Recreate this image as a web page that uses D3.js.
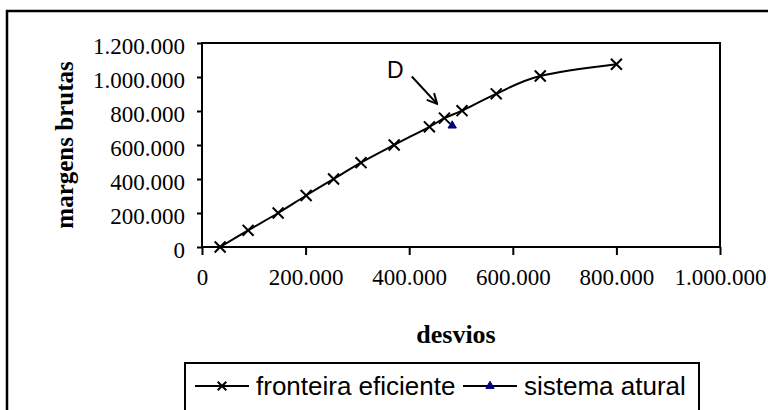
<!DOCTYPE html>
<html>
<head>
<meta charset="utf-8">
<script src="https://cdn.jsdelivr.net/npm/d3@7"></script>
<style>
  body { margin: 0; background: #fff; }
  svg { display: block; }
</style>
</head>
<body>
<div id="VizBox"></div>
<script>
// fronteira eficiente (desvios, margens brutas)
var frontX = [35000, 89000, 147000, 201000, 254000, 307000, 371000, 439000, 468000, 502000, 568000, 653000, 800000];
var frontY = [0, 98000, 200000, 303000, 400000, 496000, 600000, 707000, 758000, 802000, 901000, 1006000, 1075000];
// sistema atural
var atualX = [483000];
var atualY = [714000];

var xTicks = [0, 200000, 400000, 600000, 800000, 1000000];
var yTicks = [0, 200000, 400000, 600000, 800000, 1000000, 1200000];
var seriesNames = ["fronteira eficiente", "sistema atural"];

// annotation "D" (label position and arrow, in data units)
var dLabel = {text: "D", x: 357000, y: 995000};
var dArrow = {x1: 405000, y1: 1003000, x2: 454000, y2: 842000};

var W = 768, H = 410;
var plot = {left: 202, top: 43, right: 720, bottom: 247};

var svg = d3.select("#VizBox")
  .append("svg")
  .attr("width", W)
  .attr("height", H);

// outer chart frame (runs off the right and bottom edges)
svg.append("rect")
  .attr("x", 7).attr("y", 11)
  .attr("width", 800).attr("height", 450)
  .attr("fill", "none")
  .attr("stroke", "#000")
  .attr("stroke-width", 2.5);

var x = d3.scaleLinear().domain([0, 1000000]).range([plot.left, plot.right]);
var y = d3.scaleLinear().domain([0, 1200000]).range([plot.bottom, plot.top]);

var loc = d3.formatLocale({decimal: ",", thousands: ".", grouping: [3], currency: ["", ""]});
var fmt = loc.format(",");

// plot area border
svg.append("rect")
  .attr("x", plot.left).attr("y", plot.top)
  .attr("width", plot.right - plot.left)
  .attr("height", plot.bottom - plot.top)
  .attr("fill", "#fff")
  .attr("stroke", "#000")
  .attr("stroke-width", 2);

// X axis
var xAxis = svg.append("g")
  .attr("transform", "translate(0," + plot.bottom + ")")
  .call(d3.axisBottom(x).tickValues(xTicks).tickFormat(fmt).tickSize(8).tickPadding(14));
xAxis.select(".domain").remove();
xAxis.selectAll("line").attr("stroke-width", 2);
xAxis.selectAll("text")
  .attr("font-family", "'Liberation Serif', 'Times New Roman', serif")
  .attr("font-size", 23)
  .attr("fill", "#000");

// Y axis
var yAxis = svg.append("g")
  .attr("transform", "translate(" + plot.left + ",0)")
  .call(d3.axisLeft(y).tickValues(yTicks).tickFormat(fmt).tickSize(5).tickPadding(12));
yAxis.select(".domain").remove();
yAxis.selectAll("line").attr("stroke-width", 2);
yAxis.selectAll("text")
  .attr("font-family", "'Liberation Serif', 'Times New Roman', serif")
  .attr("font-size", 23)
  .attr("dy", "0.45em")
  .attr("fill", "#000");

// axis titles
svg.append("text")
  .attr("transform", "translate(73," + ((plot.top + plot.bottom) / 2) + ") rotate(-90)")
  .attr("text-anchor", "middle")
  .attr("font-family", "'Liberation Serif', 'Times New Roman', serif")
  .attr("font-weight", "bold")
  .attr("font-size", 25)
  .text("margens brutas");

svg.append("text")
  .attr("x", 456).attr("y", 343)
  .attr("text-anchor", "middle")
  .attr("font-family", "'Liberation Serif', 'Times New Roman', serif")
  .attr("font-weight", "bold")
  .attr("font-size", 26)
  .text("desvios");

// smoothed frontier line
var front = frontX.map(function(d, i) { return {x: d, y: frontY[i]}; });
var line = d3.line()
  .x(function(d) { return x(d.x); })
  .y(function(d) { return y(d.y); })
  .curve(d3.curveCatmullRom.alpha(0));

svg.append("path")
  .datum(front)
  .attr("d", line)
  .attr("fill", "none")
  .attr("stroke", "#000")
  .attr("stroke-width", 2);

// X markers
var cross = d3.symbol().type(d3.symbolX).size(80);
svg.selectAll(".xmark")
  .data(front)
  .enter().append("path")
  .attr("class", "xmark")
  .attr("d", cross)
  .attr("transform", function(d) { return "translate(" + x(d.x) + "," + y(d.y) + ")"; })
  .attr("fill", "none")
  .attr("stroke", "#000")
  .attr("stroke-width", 2);

// sistema atural triangle
var atual = atualX.map(function(d, i) { return {x: d, y: atualY[i]}; });
var tri = d3.symbol().type(d3.symbolTriangle).size(30);
svg.selectAll(".tri")
  .data(atual)
  .enter().append("path")
  .attr("class", "tri")
  .attr("d", tri)
  .attr("transform", function(d) { return "translate(" + x(d.x) + "," + y(d.y) + ")"; })
  .attr("fill", "#000080")
  .attr("stroke", "#000080")
  .attr("stroke-width", 1);

// annotation D with arrow
svg.append("defs").append("marker")
  .attr("id", "arrowhead")
  .attr("viewBox", "0 0 12 12")
  .attr("refX", 11).attr("refY", 6)
  .attr("markerWidth", 12).attr("markerHeight", 12)
  .attr("markerUnits", "userSpaceOnUse")
  .attr("orient", "auto")
  .append("path")
  .attr("d", "M1,1 L11,6 L1,11")
  .attr("fill", "none")
  .attr("stroke", "#000")
  .attr("stroke-width", 2);

svg.append("line")
  .attr("x1", x(dArrow.x1)).attr("y1", y(dArrow.y1))
  .attr("x2", x(dArrow.x2)).attr("y2", y(dArrow.y2))
  .attr("stroke", "#000")
  .attr("stroke-width", 2)
  .attr("marker-end", "url(#arrowhead)");

svg.append("text")
  .attr("x", x(dLabel.x)).attr("y", y(dLabel.y))
  .attr("font-family", "'Liberation Sans', Arial, sans-serif")
  .attr("font-size", 23)
  .text(dLabel.text);

// legend
var lg = svg.append("g");
lg.append("rect")
  .attr("x", 185).attr("y", 363)
  .attr("width", 514).attr("height", 70)
  .attr("fill", "#fff")
  .attr("stroke", "#000")
  .attr("stroke-width", 2);

var legendItems = [
  {name: seriesNames[0], lx: 195, tx: 256, mark: "x"},
  {name: seriesNames[1], lx: 463, tx: 524, mark: "tri"}
];
legendItems.forEach(function(it) {
  lg.append("line")
    .attr("x1", it.lx).attr("x2", it.lx + 54)
    .attr("y1", 386).attr("y2", 386)
    .attr("stroke", "#000").attr("stroke-width", 2);
  if (it.mark === "x") {
    lg.append("path")
      .attr("d", d3.symbol().type(d3.symbolX).size(50)())
      .attr("transform", "translate(" + (it.lx + 27) + ",386)")
      .attr("fill", "none").attr("stroke", "#000").attr("stroke-width", 2);
  } else {
    lg.append("path")
      .attr("d", tri())
      .attr("transform", "translate(" + (it.lx + 27) + ",386)")
      .attr("fill", "#000080").attr("stroke", "#000080");
  }
  lg.append("text")
    .attr("x", it.tx).attr("y", 395)
    .attr("font-family", "'Liberation Sans', Arial, sans-serif")
    .attr("font-size", 26)
    .text(it.name);
});
</script>
</body>
</html>
